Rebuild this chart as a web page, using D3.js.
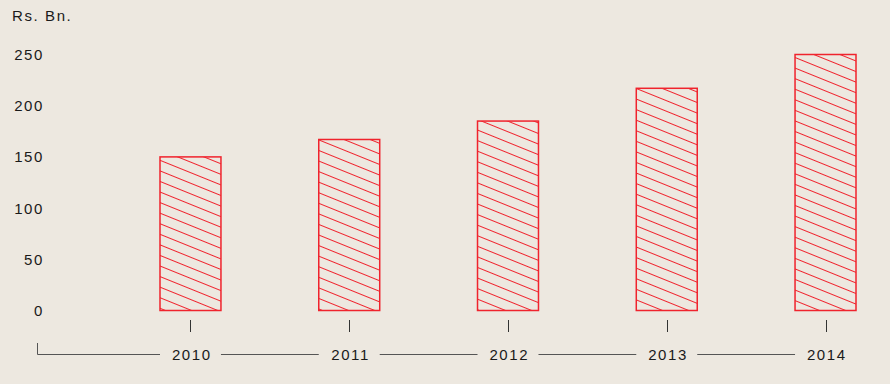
<!DOCTYPE html>
<html>
<head>
<meta charset="utf-8">
<script src="https://cdn.jsdelivr.net/npm/d3@7"></script>
<style>
  body { margin: 0; background: #ede8e0; }
  svg text { font-family: "Liberation Sans", Arial, sans-serif; font-size: 15px; letter-spacing: 1.6px; fill: #1a1a1a; }
</style>
</head>
<body>
<div id="chart"></div>
<script>
// data
var years = ["2010", "2011", "2012", "2013", "2014"];
var values = [150, 167, 185, 217, 250];
var yTicks = [0, 50, 100, 150, 200, 250];
var unitLabel = "Rs. Bn.";

var width = 890, height = 384;

var svg = d3.select("#chart").append("svg")
    .attr("width", width)
    .attr("height", height);

svg.append("rect")
    .attr("width", width)
    .attr("height", height)
    .attr("fill", "#ede8e0");

// hatch pattern
var defs = svg.append("defs");
var pattern = defs.append("pattern")
    .attr("id", "hatch")
    .attr("patternUnits", "userSpaceOnUse")
    .attr("width", 10)
    .attr("height", 9.8)
    .attr("patternTransform", "rotate(22)");
pattern.append("line")
    .attr("x1", 0).attr("y1", 0.5)
    .attr("x2", 10).attr("y2", 0.5)
    .attr("stroke", "#f0232d")
    .attr("stroke-width", 1);

// scales
var x = d3.scaleBand()
    .domain(years)
    .range([160, 856])
    .paddingInner(0.616)
    .paddingOuter(0);

var y = d3.scaleLinear()
    .domain([0, 250])
    .range([310.5, 54.5]);

// y labels
svg.append("text")
    .attr("x", 12)
    .attr("y", 21)
    .text(unitLabel);

svg.selectAll(".ylab")
    .data(yTicks)
  .enter().append("text")
    .attr("class", "ylab")
    .attr("x", 44)
    .attr("y", function(d) { return y(d) + 5.5; })
    .attr("text-anchor", "end")
    .text(function(d) { return d; });

// bars
svg.selectAll(".bar")
    .data(values)
  .enter().append("rect")
    .attr("class", "bar")
    .attr("x", function(d, i) { return x(years[i]); })
    .attr("y", function(d) { return y(d); })
    .attr("width", x.bandwidth())
    .attr("height", function(d) { return y(0) - y(d); })
    .attr("fill", "url(#hatch)")
    .attr("stroke", "#f0232d")
    .attr("stroke-width", 1.5);

// small ticks under bars
svg.selectAll(".tick-mark")
    .data(years)
  .enter().append("line")
    .attr("class", "tick-mark")
    .attr("x1", function(d) { return Math.round(x(d) + x.bandwidth() / 2) + 0.5; })
    .attr("x2", function(d) { return Math.round(x(d) + x.bandwidth() / 2) + 0.5; })
    .attr("y1", 320)
    .attr("y2", 332)
    .attr("stroke", "#333")
    .attr("stroke-width", 1);

// bottom axis line, broken at each label
var axisY = 354.5;
var segStart = 37.5;
var axisG = svg.append("g").attr("class", "x-axis");
axisG.append("line")
    .attr("x1", segStart).attr("x2", segStart)
    .attr("y1", 343).attr("y2", axisY)
    .attr("stroke", "#555");
years.forEach(function(d) {
  axisG.append("line")
    .attr("x1", segStart)
    .attr("x2", x(d))
    .attr("y1", axisY).attr("y2", axisY)
    .attr("stroke", "#555");
  segStart = x(d) + x.bandwidth();
});

svg.selectAll(".xlab")
    .data(years)
  .enter().append("text")
    .attr("class", "xlab")
    .attr("x", function(d) { return x(d) + x.bandwidth() / 2 + 1.3; })
    .attr("y", axisY + 5.5)
    .attr("text-anchor", "middle")
    .text(function(d) { return d; });
</script>
</body>
</html>
